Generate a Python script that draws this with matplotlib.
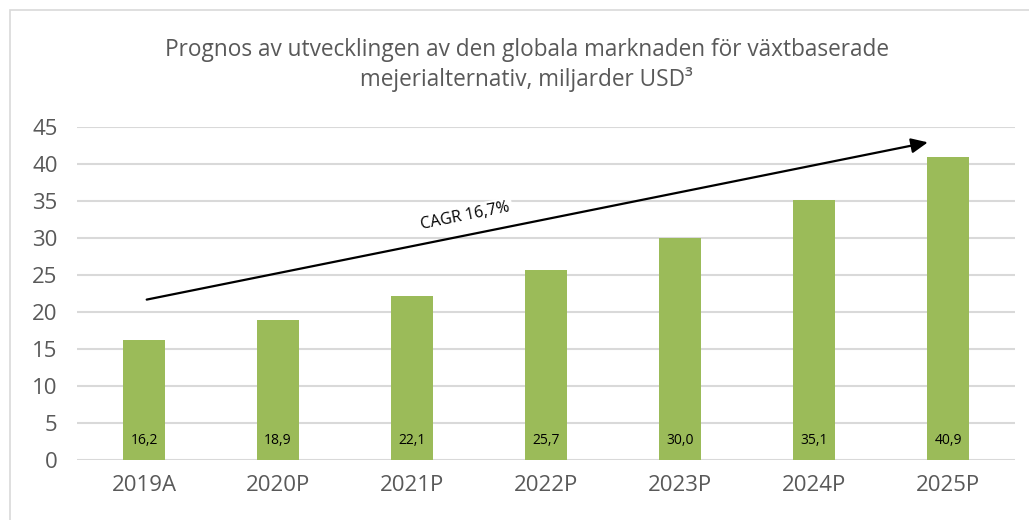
import matplotlib.pyplot as plt
from matplotlib.patches import Rectangle

# 데이터
years = ["2019A", "2020P", "2021P", "2022P", "2023P", "2024P", "2025P"]
values = [16.2, 18.9, 22.1, 25.7, 30.0, 35.1, 40.9]
value_labels = ["16,2", "18,9", "22,1", "25,7", "30,0", "35,1", "40,9"]
yticks = [0, 5, 10, 15, 20, 25, 30, 35, 40, 45]
title = "Prognos av utvecklingen av den globala marknaden för växtbaserade\nmejerialternativ, miljarder USD³"
cagr_text = "CAGR 16,7%"

plt.rcParams['font.family'] = ['Open Sans', 'DejaVu Sans']
grey = "#595959"

fig = plt.figure(figsize=(10.29, 5.2), dpi=100)
ax = fig.add_axes([0.0748, 0.1154, 0.9116, 0.6404])

# 테두리
fig.patches.append(Rectangle((10 / 1029, -0.01), 1.0, 1 - 10 / 520 + 0.01,
                             transform=fig.transFigure, fill=False,
                             edgecolor="#d9d9d9", linewidth=1.2))

x = range(len(years))
ax.bar(x, values, width=0.31, color="#9BBB59", zorder=2)

for i, lab in enumerate(value_labels):
    ax.text(i, 2.6, lab, ha="center", va="center", fontsize=10, color="black", zorder=3)

ax.set_xlim(-0.5, len(years) - 0.5)
ax.set_ylim(0, 45)
ax.set_yticks(yticks)
ax.yaxis.grid(True, color="#d9d9d9", linewidth=1.5, zorder=0)
ax.set_axisbelow(True)
for s in ax.spines.values():
    s.set_visible(False)
ax.tick_params(axis="both", length=0, labelsize=16, colors=grey)
ax.tick_params(axis="x", pad=11)
ax.tick_params(axis="y", pad=14)
ax.set_xticks(list(x))
ax.set_xticklabels(years)

# CAGR 화살표
ax.annotate("", xy=(5.87, 43.0), xytext=(0.0, 21.6),
            arrowprops=dict(arrowstyle="-|>,head_length=1.0,head_width=0.45",
                            color="black", lw=1.6), zorder=4)
ax.text(2.40, 32.9, cagr_text, ha="center", va="center", fontsize=11.5,
        rotation=11.4, color="black", zorder=3,
        bbox=dict(facecolor="white", edgecolor="none", pad=2))

fig.text(0.512, 0.875, title, ha="center", va="center", fontsize=16.3,
         color=grey, linespacing=1.3)

fig.savefig("out.png", dpi=100)
